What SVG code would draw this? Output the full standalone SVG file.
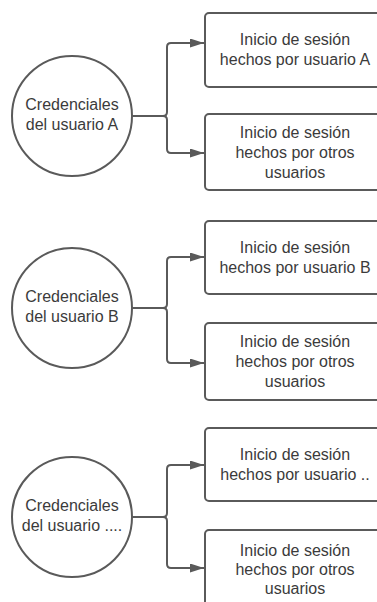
<svg xmlns="http://www.w3.org/2000/svg" width="377" height="602" viewBox="0 0 377 602">
<style>
.n{fill:#ffffff;stroke:#5a5a5a;stroke-width:2}
.t{font-family:"Liberation Sans",Arial,sans-serif;font-size:16px;fill:#3b3b3b;text-anchor:middle}
.c{fill:none;stroke:#5a5a5a;stroke-width:2;marker-end:url(#ah)}
</style>
<defs>
<marker id="ah" markerUnits="userSpaceOnUse" markerWidth="14" markerHeight="9" refX="14" refY="4.5" orient="auto">
<path d="M0,0 L14,4.5 L0,9 z" fill="#5a5a5a"/>
</marker>
</defs>
<rect width="377" height="602" fill="#ffffff"/>
<g id="connectors">
<path class="c" d="M132,116 H163 Q167,116 167,112 V47 Q167,43 171,43 H204"/>
<path class="c" d="M132,116 H163 Q167,116 167,120 V149 Q167,153 171,153 H204"/>
<path class="c" d="M132,308 H163 Q167,308 167,304 V261 Q167,257 171,257 H204"/>
<path class="c" d="M132,308 H163 Q167,308 167,312 V359 Q167,363 171,363 H204"/>
<path class="c" d="M132,517 H163 Q167,517 167,513 V469 Q167,465 171,465 H204"/>
<path class="c" d="M132,517 H163 Q167,517 167,521 V564 Q167,568 171,568 H204"/>
</g>
<g id="credA">
<circle class="n" cx="72" cy="116" r="60"/>
<text class="t" x="72" y="110">Credenciales</text>
<text class="t" x="72" y="130">del usuario A</text>
</g>
<g id="boxA1">
<rect class="n" x="205" y="13" width="180" height="74" rx="4"/>
<text class="t" x="295" y="45">Inicio de sesión</text>
<text class="t" x="295" y="65">hechos por usuario A</text>
</g>
<g id="boxA2">
<rect class="n" x="205" y="114" width="180" height="76" rx="4"/>
<text class="t" x="295" y="138">Inicio de sesión</text>
<text class="t" x="295" y="158">hechos por otros</text>
<text class="t" x="295" y="178">usuarios</text>
</g>
<g id="credB">
<circle class="n" cx="72" cy="308" r="60"/>
<text class="t" x="72" y="302">Credenciales</text>
<text class="t" x="72" y="322">del usuario B</text>
</g>
<g id="boxB1">
<rect class="n" x="205" y="221" width="180" height="73" rx="4"/>
<text class="t" x="295" y="253">Inicio de sesión</text>
<text class="t" x="295" y="273">hechos por usuario B</text>
</g>
<g id="boxB2">
<rect class="n" x="205" y="323" width="180" height="77" rx="4"/>
<text class="t" x="295" y="347">Inicio de sesión</text>
<text class="t" x="295" y="367">hechos por otros</text>
<text class="t" x="295" y="387">usuarios</text>
</g>
<g id="credC">
<circle class="n" cx="72" cy="517" r="60"/>
<text class="t" x="72" y="511">Credenciales</text>
<text class="t" x="72" y="531">del usuario ....</text>
</g>
<g id="boxC1">
<rect class="n" x="205" y="428" width="180" height="73" rx="4"/>
<text class="t" x="295" y="460">Inicio de sesión</text>
<text class="t" x="295" y="480">hechos por usuario ..</text>
</g>
<g id="boxC2">
<rect class="n" x="205" y="530" width="180" height="78" rx="4"/>
<text class="t" x="295" y="556">Inicio de sesión</text>
<text class="t" x="295" y="575">hechos por otros</text>
<text class="t" x="295" y="594">usuarios</text>
</g>
</svg>
